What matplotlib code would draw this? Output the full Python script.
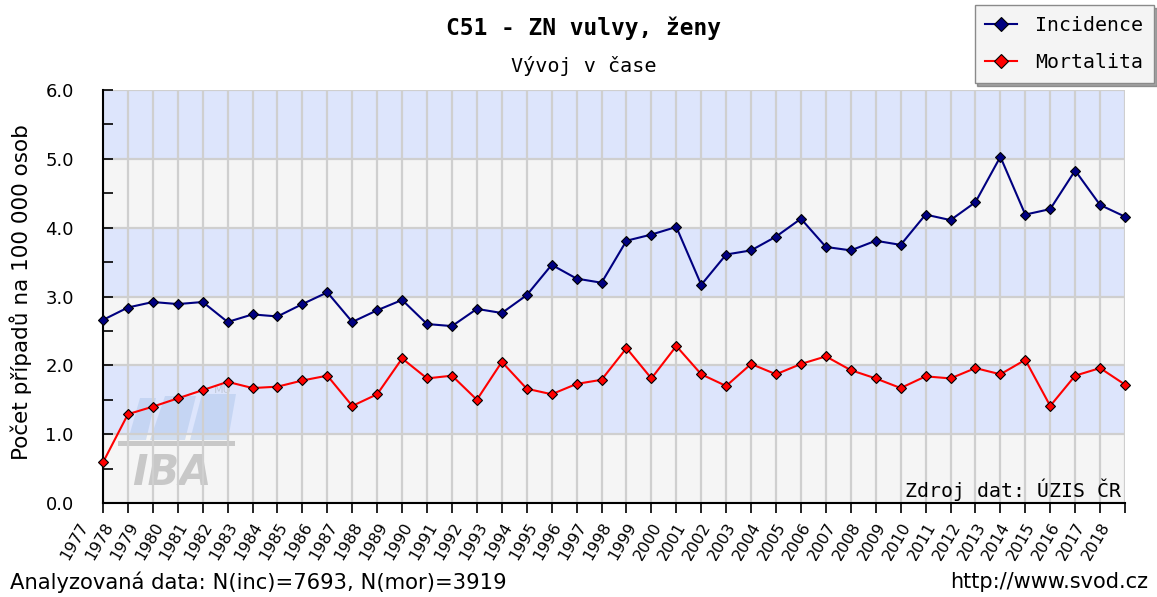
import matplotlib
matplotlib.use("Agg")
import matplotlib.pyplot as plt
from matplotlib.lines import Line2D
from matplotlib.patches import Polygon, Rectangle
from matplotlib.ticker import MultipleLocator, FormatStrFormatter
from matplotlib.transforms import ScaledTranslation

# data
years = list(range(1977, 2019))
incidence = [2.66, 2.84, 2.92, 2.89, 2.92, 2.63, 2.74, 2.71, 2.89, 3.06,
             2.63, 2.80, 2.95, 2.60, 2.57, 2.82, 2.76, 3.02, 3.46, 3.26,
             3.20, 3.81, 3.90, 4.01, 3.17, 3.61, 3.67, 3.87, 4.13, 3.72,
             3.67, 3.81, 3.75, 4.19, 4.11, 4.37, 5.03, 4.19, 4.27, 4.83,
             4.33, 4.16]
mortalita = [0.59, 1.29, 1.40, 1.52, 1.64, 1.76, 1.67, 1.69, 1.78, 1.85,
             1.41, 1.58, 2.10, 1.81, 1.85, 1.50, 2.05, 1.66, 1.58, 1.73,
             1.79, 2.25, 1.81, 2.28, 1.87, 1.70, 2.02, 1.87, 2.02, 2.13,
             1.93, 1.81, 1.67, 1.84, 1.81, 1.96, 1.87, 2.08, 1.41, 1.85,
             1.96, 1.72]
series_names = ["Incidence", "Mortalita"]
series_colors = ["#000080", "#ff0000"]

MONO = "DejaVu Sans Mono"
W, H = 1157, 597
fig = plt.figure(figsize=(W / 100, H / 100), dpi=100)
fig.patch.set_facecolor("white")
ax = fig.add_axes([103 / W, 1 - 503 / H, (1125 - 103) / W, (503 - 90) / H])

# alternating horizontal bands
for i in range(6):
    ax.axhspan(i, i + 1, color="#dde5fc" if i % 2 else "#f5f5f5", lw=0, zorder=0)

ax.set_xlim(years[0], years[-1])
ax.set_ylim(0, 6)
ax.set_xticks(years)
ax.set_xticklabels([])
# year labels: rotated, shifted left/down from the tick like in the original
lab_tr = ax.get_xaxis_transform() + ScaledTranslation(-25 / 100, -17 / 100, fig.dpi_scale_trans)
for y in years:
    ax.text(y, 0, str(y), transform=lab_tr, rotation=60, ha="right", va="top",
            rotation_mode="anchor", fontsize=11.5, clip_on=False)

ax.yaxis.set_major_locator(MultipleLocator(1))
ax.yaxis.set_minor_locator(MultipleLocator(0.5))
ax.yaxis.set_major_formatter(FormatStrFormatter("%.1f"))
ax.tick_params(axis="y", which="both", direction="in", length=7, width=1.2,
               labelsize=13, pad=21)
ax.tick_params(axis="x", direction="out", length=7, width=1.2, pad=3)
ax.grid(True, which="major", color="#cfcfcf", lw=1.6)
ax.set_axisbelow(True)

for s in ["top", "right"]:
    ax.spines[s].set_visible(False)
for s in ["left", "bottom"]:
    ax.spines[s].set_linewidth(1.5)

# watermark logo (decoration, in figure pixels)
def px(x, y):
    return [x / W, 1 - y / H]

logo = [
    [px(128, 440), px(146, 440), px(156, 398), px(140, 398)],
    [px(150, 440), px(185, 440), px(196, 396), px(165, 396)],
    [px(190, 440), px(228, 440), px(236, 394), px(202, 394)],
]
for pts in logo:
    ax.add_patch(Polygon(pts, transform=fig.transFigure, facecolor="#a9c3ea",
                         alpha=0.45, edgecolor="none", zorder=0.2, clip_on=False))
ax.add_patch(Rectangle((118 / W, 1 - 446 / H), 117 / W, 5 / H, transform=fig.transFigure,
                       facecolor="#c8c8c8", edgecolor="none", zorder=0.2, clip_on=False))
ax.text(172 / W, 1 - 473 / H, "IBA", transform=fig.transFigure, fontsize=30,
        fontweight="bold", style="italic", color="#c8c8c8", ha="center", va="center",
        zorder=0.2)
ax.text(223 / W, 1 - 390 / H, "MU", transform=fig.transFigure, fontsize=8,
        color="#c0c8d8", ha="center", va="center", zorder=0.2)

for vals, name, col in zip([incidence, mortalita], series_names, series_colors):
    ax.plot(years, vals, color=col, lw=1.5, marker="D", ms=5.5, mfc=col,
            mec="black", mew=0.8, label=name, zorder=3, clip_on=False)

ax.text(0.996, 0.006, "Zdroj dat: ÚZIS ČR", transform=ax.transAxes, ha="right",
        va="bottom", family=MONO, fontsize=14.3, zorder=4)

ax.set_ylabel("Počet případů na 100 000 osob", fontsize=15.5)
ax.yaxis.set_label_coords(-71 / (1125 - 103), 0.51)

fig.text(583 / W, 1 - 28 / H, "C51 - ZN vulvy, ženy", family=MONO, fontsize=16.5,
         fontweight="bold", ha="center", va="center")
fig.text(584 / W, 1 - 66 / H, "Vývoj v čase", family=MONO, fontsize=14.5,
         ha="center", va="center")

fig.text(10 / W, 1 - 582 / H, "Analyzovaná data: N(inc)=7693, N(mor)=3919",
         fontsize=15.2, ha="left", va="center")
fig.text(1148 / W, 1 - 582 / H, "http://www.svod.cz", fontsize=15,
         ha="right", va="center")

handles = [Line2D([], [], color=c, lw=1.5, marker="D", ms=7, mfc=c, mec="black", mew=0.8)
           for c in series_colors]
leg = fig.legend(handles, series_names, loc="upper right",
                 bbox_to_anchor=(1154 / W, 1 - 5 / H), prop={"family": MONO, "size": 14.3},
                 frameon=True, fancybox=False, shadow=True, handlelength=1.6,
                 borderpad=0.55, labelspacing=0.9, handletextpad=0.9, borderaxespad=0)
leg.get_frame().set_facecolor("#f4f4f4")
leg.get_frame().set_edgecolor("#8a8a8a")
leg.get_frame().set_alpha(1)

fig.savefig("out.png", dpi=100)
